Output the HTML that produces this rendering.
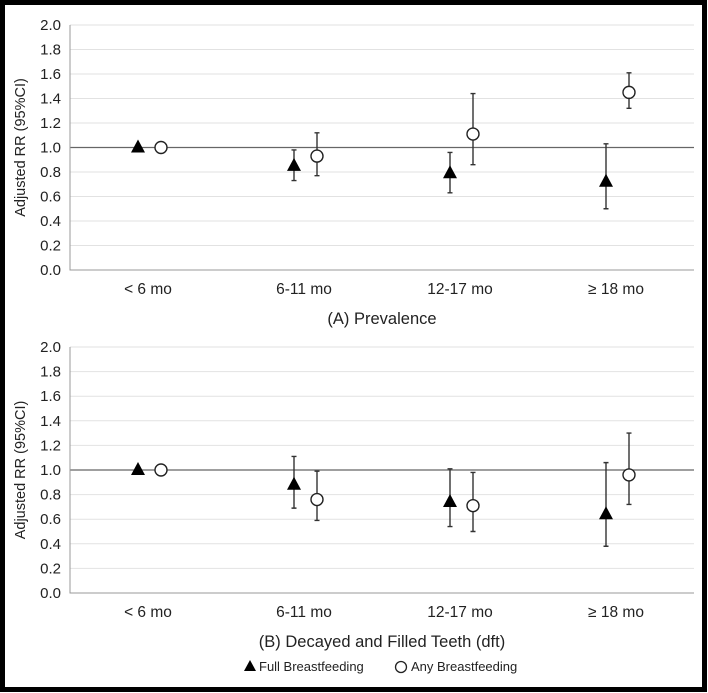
<!DOCTYPE html>
<html><head><meta charset="utf-8"><style>
html,body{margin:0;padding:0;background:#fff}
svg{display:block;font-family:"Liberation Sans",Arial,sans-serif}
</style></head><body>
<svg id="c" width="708" height="693" viewBox="0 0 708 693">
<rect x="2.5" y="2.5" width="702" height="687" fill="#fff" stroke="#000" stroke-width="5"/>
</svg>
<script>
const categories=["< 6 mo","6-11 mo","12-17 mo","\u2265 18 mo"];
const yTicks=[0,0.2,0.4,0.6,0.8,1.0,1.2,1.4,1.6,1.8,2.0];
const prevFull=[1.0,0.85,0.79,0.72];
const prevFullLo=[null,0.73,0.63,0.50];
const prevFullHi=[null,0.98,0.96,1.03];
const prevAny=[1.0,0.93,1.11,1.45];
const prevAnyLo=[null,0.77,0.86,1.32];
const prevAnyHi=[null,1.12,1.44,1.61];
const dftFull=[1.0,0.88,0.74,0.64];
const dftFullLo=[null,0.69,0.54,0.38];
const dftFullHi=[null,1.11,1.01,1.06];
const dftAny=[1.0,0.76,0.71,0.96];
const dftAnyLo=[null,0.59,0.50,0.72];
const dftAnyHi=[null,0.99,0.98,1.30];

const svg=document.getElementById('c');
const NS='http://www.w3.org/2000/svg';
function mk(tag,attrs,parent){const e=document.createElementNS(NS,tag);for(const k in attrs)e.setAttribute(k,attrs[k]);(parent||svg).appendChild(e);return e;}

function panel(y0,y2,title,full,fullLo,fullHi,any,anyLo,anyHi,key){
  const g=mk('g',{});
  
  
  const x0=70,x1=694;
  const ys=v=>y0-(v/2)*(y0-y2);
  const cw=(x1-x0)/categories.length;
  const xs=i=>x0+cw*(i+0.5);
  yTicks.forEach(t=>{
    const y=ys(t);
    if(t>0&&t!==1){const l=mk('line',{x1:x0,x2:x1,y1:y,y2:y,stroke:'#e2e2e2','stroke-width':1},g);
      
      }
    const tx=mk('text',{x:x0-9,y:y+5,'text-anchor':'end','font-size':15,fill:'#222'},g);
    tx.textContent=t.toFixed(1);
    
    
  });
  const ref=mk('line',{x1:x0,x2:x1,y1:ys(1),y2:ys(1),stroke:'#666','stroke-width':1.3},g);
  
  
  const ax=mk('path',{d:`M${x0} ${y2}V${y0}H${x1}`,fill:'none',stroke:'#999','stroke-width':1},g);
  
  
  categories.forEach((c,i)=>{
    const t=mk('text',{x:xs(i),y:y0+24,'text-anchor':'middle','font-size':15.5,fill:'#222'},g);
    t.textContent=c;
    
    
  });
  const tt=mk('text',{x:(x0+x1)/2,y:y0+54,'text-anchor':'middle','font-size':16.5,fill:'#222'},g);
  tt.textContent=title;
  
  
  const yt=mk('text',{x:0,y:0,'text-anchor':'middle','font-size':14.5,fill:'#222',transform:`translate(25,${(y0+y2)/2}) rotate(-90)`},g);
  yt.textContent='Adjusted RR (95%CI)';
  
  
  function err(x,lo,hi){
    if(lo==null)return;
    const e=mk('path',{d:`M${x} ${ys(hi)}V${ys(lo)}M${x-2.5} ${ys(hi)}h5M${x-2.5} ${ys(lo)}h5`,stroke:'#333','stroke-width':1.4,fill:'none'},g);
    
    
  }
  categories.forEach((c,i)=>{
    const xf=xs(i)-10, xa=xs(i)+13;
    err(xf,fullLo[i],fullHi[i]);
    err(xa,anyLo[i],anyHi[i]);
    const y=ys(full[i]);
    const tri=mk('path',{d:`M${xf} ${y-8}L${xf+7} ${y+5}L${xf-7} ${y+5}Z`,fill:'#000'},g);
    
    
    const ci=mk('circle',{cx:xa,cy:ys(any[i]),r:6,fill:'#fff',stroke:'#222','stroke-width':1.4},g);
    
    
  });
}
panel(270,25,'(A) Prevalence',prevFull,prevFullLo,prevFullHi,prevAny,prevAnyLo,prevAnyHi,'prevalence');
panel(593,347,'(B) Decayed and Filled Teeth (dft)',dftFull,dftFullLo,dftFullHi,dftAny,dftAnyLo,dftAnyHi,'dft');

const lg=mk('g',{});


const lt=mk('path',{d:'M250 660L256 671L244 671Z',fill:'#000'},lg);


const l1=mk('text',{x:259,y:671,'font-size':13,fill:'#222'},lg);
l1.textContent='Full Breastfeeding';


const lc=mk('circle',{cx:401,cy:667,r:5.5,fill:'#fff',stroke:'#222','stroke-width':1.3},lg);


const l2=mk('text',{x:411,y:671,'font-size':13,fill:'#222'},lg);
l2.textContent='Any Breastfeeding';


</script>
</body></html>
